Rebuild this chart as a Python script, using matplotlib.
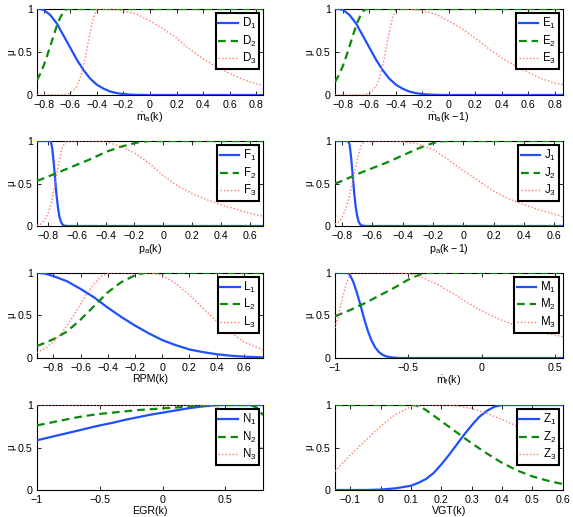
import matplotlib
matplotlib.use("Agg")
import matplotlib.pyplot as plt
from matplotlib import font_manager

names = {f.name for f in font_manager.fontManager.ttflist}
base = 'Liberation Sans Narrow' if 'Liberation Sans Narrow' in names else 'Liberation Sans'
plt.rcParams['font.family'] = [base, 'DejaVu Sans']
plt.rcParams['mathtext.fontset'] = 'custom'
plt.rcParams['mathtext.rm'] = base
plt.rcParams['mathtext.it'] = base + ':italic'
plt.rcParams['mathtext.default'] = 'regular'

# ---------------- data ----------------
# Panel D : m_a(k)
D1_x = [-0.85, -0.83, -0.8, -0.75, -0.7, -0.65, -0.6, -0.55, -0.5, -0.45, -0.4, -0.35, -0.3, -0.25, -0.2, -0.15, -0.1, 0.0, 0.85]
D1_y = [1, 1, 0.99, 0.93, 0.83, 0.69, 0.55, 0.41, 0.29, 0.19, 0.12, 0.074, 0.041, 0.022, 0.011, 0.005, 0.002, 0, 0]
D2_x = [-0.85, -0.825, -0.8, -0.775, -0.75, -0.725, -0.7, -0.675, -0.65, -0.635, -0.62, 0.85]
D2_y = [0.17, 0.25, 0.34, 0.45, 0.57, 0.69, 0.81, 0.90, 0.97, 0.99, 1, 1]
D3_x = [-0.85, -0.65, -0.6, -0.55, -0.525, -0.5, -0.475, -0.45, -0.425, -0.4, -0.39, -0.3, -0.2, -0.1, 0.0, 0.1, 0.2, 0.3, 0.4, 0.5, 0.6, 0.7, 0.8, 0.85]
D3_y = [0, 0.002, 0.02, 0.10, 0.20, 0.34, 0.53, 0.73, 0.90, 0.99, 1, 1, 0.98, 0.94, 0.86, 0.77, 0.66, 0.53, 0.42, 0.33, 0.25, 0.18, 0.13, 0.11]

# Panel E : m_a(k-1)
E1_x = [-0.86, -0.83, -0.8, -0.75, -0.7, -0.65, -0.6, -0.55, -0.5, -0.45, -0.4, -0.35, -0.3, -0.25, -0.2, -0.15, -0.1, 0.0, 0.86]
E1_y = [1, 1, 0.99, 0.93, 0.83, 0.69, 0.55, 0.41, 0.29, 0.19, 0.12, 0.074, 0.041, 0.022, 0.011, 0.005, 0.002, 0, 0]
E2_x = [-0.86, -0.825, -0.8, -0.775, -0.75, -0.725, -0.7, -0.675, -0.65, -0.635, -0.62, 0.86]
E2_y = [0.15, 0.25, 0.34, 0.45, 0.57, 0.69, 0.81, 0.90, 0.97, 0.99, 1, 1]
E3_x = [-0.86, -0.65, -0.6, -0.55, -0.525, -0.5, -0.475, -0.45, -0.425, -0.4, -0.39, -0.3, -0.2, -0.1, 0.0, 0.1, 0.2, 0.3, 0.4, 0.5, 0.6, 0.7, 0.8, 0.86]
E3_y = [0, 0.002, 0.02, 0.10, 0.20, 0.34, 0.53, 0.73, 0.90, 0.99, 1, 1, 0.98, 0.94, 0.86, 0.77, 0.66, 0.54, 0.43, 0.34, 0.26, 0.19, 0.14, 0.12]

# Panel F : p_a(k)
F1_x = [-0.875, -0.78, -0.77, -0.76, -0.75, -0.74, -0.73, -0.72, -0.71, -0.70, -0.69, -0.68, -0.66, 0.69]
F1_y = [1, 1, 0.92, 0.76, 0.56, 0.37, 0.22, 0.11, 0.053, 0.022, 0.008, 0.003, 0, 0]
F2_x = [-0.875, -0.8, -0.7, -0.6, -0.5, -0.4, -0.3, -0.2, -0.15, -0.1, 0.69]
F2_y = [0.53, 0.58, 0.65, 0.72, 0.79, 0.87, 0.93, 0.975, 0.99, 1, 1]
F3_x = [-0.875, -0.85, -0.825, -0.8, -0.775, -0.75, -0.725, -0.7, -0.675, -0.45, -0.4, -0.3, -0.2, -0.1, 0.0, 0.1, 0.2, 0.3, 0.4, 0.5, 0.6, 0.69]
F3_y = [0.007, 0.02, 0.06, 0.14, 0.28, 0.49, 0.73, 0.92, 1, 1, 0.99, 0.94, 0.86, 0.74, 0.59, 0.47, 0.38, 0.31, 0.25, 0.20, 0.15, 0.115]

# Panel J : p_a(k-1)
J1_x = [-0.846, -0.76, -0.75, -0.74, -0.73, -0.72, -0.71, -0.70, -0.69, -0.68, -0.67, -0.65, 0.655]
J1_y = [1, 1, 0.96, 0.81, 0.61, 0.40, 0.23, 0.12, 0.05, 0.02, 0.007, 0, 0]
J2_x = [-0.846, -0.8, -0.7, -0.6, -0.5, -0.4, -0.3, -0.25, -0.2, -0.15, -0.1, 0.655]
J2_y = [0.50, 0.53, 0.61, 0.68, 0.75, 0.83, 0.91, 0.945, 0.975, 0.995, 1, 1]
J3_x = [-0.846, -0.825, -0.8, -0.775, -0.75, -0.725, -0.7, -0.675, -0.65, -0.45, -0.4, -0.3, -0.2, -0.1, 0.0, 0.1, 0.2, 0.3, 0.4, 0.5, 0.6, 0.655]
J3_y = [0.02, 0.044, 0.10, 0.20, 0.36, 0.56, 0.77, 0.94, 1, 1, 0.99, 0.965, 0.90, 0.78, 0.65, 0.53, 0.41, 0.32, 0.25, 0.19, 0.14, 0.11]

# Panel L : RPM(k)
L1_x = [-0.92, -0.86, -0.8, -0.7, -0.6, -0.5, -0.4, -0.3, -0.2, -0.1, 0.0, 0.1, 0.2, 0.3, 0.4, 0.5, 0.6, 0.74]
L1_y = [1.0, 0.99, 0.96, 0.90, 0.81, 0.71, 0.59, 0.48, 0.38, 0.29, 0.21, 0.15, 0.10, 0.069, 0.044, 0.027, 0.016, 0.007]
L2_x = [-0.92, -0.8, -0.7, -0.6, -0.5, -0.4, -0.3, -0.2, -0.15, -0.12, 0.74]
L2_y = [0.14, 0.22, 0.31, 0.45, 0.61, 0.77, 0.89, 0.97, 0.99, 1, 1]
L3_x = [-0.92, -0.85, -0.8, -0.75, -0.7, -0.65, -0.6, -0.55, -0.5, -0.45, -0.4, -0.38, -0.1, 0.0, 0.1, 0.2, 0.3, 0.4, 0.5, 0.6, 0.74]
L3_y = [0.064, 0.124, 0.19, 0.27, 0.38, 0.50, 0.63, 0.76, 0.87, 0.955, 0.99, 1, 1, 0.97, 0.87, 0.74, 0.58, 0.43, 0.30, 0.19, 0.094]

# Panel M : m_f(k)
M1_x = [-1.0, -0.92, -0.9, -0.875, -0.85, -0.825, -0.8, -0.775, -0.75, -0.725, -0.7, -0.675, -0.65, -0.6, -0.55, 0.55]
M1_y = [1, 1, 0.98, 0.89, 0.76, 0.61, 0.45, 0.31, 0.20, 0.12, 0.068, 0.036, 0.018, 0.0035, 0, 0]
M2_x = [-1.0, -0.9, -0.8, -0.7, -0.6, -0.5, -0.45, -0.4, -0.35, 0.55]
M2_y = [0.49, 0.56, 0.64, 0.73, 0.82, 0.92, 0.96, 0.99, 1, 1]
M3_x = [-1.0, -0.975, -0.95, -0.925, -0.9, -0.88, -0.6, -0.5, -0.45, -0.4, -0.3, -0.2, -0.1, 0.0, 0.1, 0.2, 0.3, 0.4, 0.5, 0.55]
M3_y = [0.35, 0.52, 0.70, 0.86, 0.97, 1, 1, 0.99, 0.97, 0.94, 0.86, 0.76, 0.65, 0.55, 0.47, 0.40, 0.35, 0.30, 0.27, 0.25]

# Panel N : EGR(k)
N1_x = [-1.0, -0.9, -0.8, -0.7, -0.6, -0.5, -0.4, -0.3, -0.2, -0.1, 0.0, 0.1, 0.2, 0.3, 0.4, 0.45, 0.8]
N1_y = [0.585, 0.62, 0.655, 0.69, 0.725, 0.76, 0.79, 0.825, 0.855, 0.885, 0.91, 0.935, 0.96, 0.98, 0.995, 1, 1]
N2_x = [-1.0, -0.9, -0.8, -0.7, -0.6, -0.5, -0.4, -0.3, -0.2, -0.1, 0.0, 0.1, 0.2, 0.3, 0.35, 0.7, 0.75, 0.8]
N2_y = [0.76, 0.79, 0.82, 0.85, 0.875, 0.895, 0.91, 0.925, 0.94, 0.95, 0.96, 0.97, 0.98, 0.99, 1, 1, 0.97, 0.88]
N3_x = [-1.0, 0.38, 0.45, 0.5, 0.55, 0.6, 0.65, 0.7, 0.75, 0.8]
N3_y = [1, 1, 0.96, 0.91, 0.85, 0.78, 0.70, 0.62, 0.55, 0.48]

# Panel Z : VGT(k)
Z1_x = [-0.15, -0.05, 0.0, 0.05, 0.1, 0.125, 0.15, 0.175, 0.2, 0.225, 0.25, 0.275, 0.3, 0.325, 0.35, 0.375, 0.4, 0.6]
Z1_y = [0, 0, 0.005, 0.02, 0.05, 0.085, 0.13, 0.20, 0.30, 0.41, 0.53, 0.65, 0.76, 0.86, 0.93, 0.98, 1, 1]
Z2_x = [-0.15, 0.11, 0.13, 0.15, 0.2, 0.25, 0.3, 0.35, 0.4, 0.45, 0.5, 0.55, 0.6]
Z2_y = [1, 1, 0.98, 0.94, 0.81, 0.68, 0.55, 0.43, 0.32, 0.23, 0.16, 0.11, 0.07]
Z3_x = [-0.15, -0.1, -0.05, 0.0, 0.05, 0.1, 0.13, 0.22, 0.25, 0.3, 0.35, 0.4, 0.45, 0.5, 0.55, 0.6]
Z3_y = [0.22, 0.41, 0.58, 0.75, 0.89, 0.98, 1, 1, 0.99, 0.96, 0.90, 0.83, 0.75, 0.66, 0.57, 0.49]

# tick values / labels
ticks_08 = [-0.8, -0.6, -0.4, -0.2, 0, 0.2, 0.4, 0.6, 0.8]
labels_08 = ['\u22120.8', '\u22120.6', '\u22120.4', '\u22120.2', '0', '0.2', '0.4', '0.6', '0.8']
ticks_06 = [-0.8, -0.6, -0.4, -0.2, 0, 0.2, 0.4, 0.6]
labels_06 = ['\u22120.8', '\u22120.6', '\u22120.4', '\u22120.2', '0', '0.2', '0.4', '0.6']
ticks_1 = [-1, -0.5, 0, 0.5]
labels_1 = ['\u22121', '\u22120.5', '0', '0.5']
ticks_vgt = [-0.1, 0, 0.1, 0.2, 0.3, 0.4, 0.5, 0.6]
labels_vgt = ['\u22120.1', '0', '0.1', '0.2', '0.3', '0.4', '0.5', '0.6']
yticks = [0, 0.5, 1]
ylabels = ['0', '0.5', '1']

panels = [
    dict(curves=[(D1_x, D1_y), (D2_x, D2_y), (D3_x, D3_y)], names=['D_1', 'D_2', 'D_3'],
         xlim=(-0.85, 0.85), ticks=ticks_08, tlabels=labels_08, xlabel=r'$\dot{m}_a(k)$'),
    dict(curves=[(E1_x, E1_y), (E2_x, E2_y), (E3_x, E3_y)], names=['E_1', 'E_2', 'E_3'],
         xlim=(-0.86, 0.86), ticks=ticks_08, tlabels=labels_08, xlabel=r'$\dot{m}_a(k-1)$'),
    dict(curves=[(F1_x, F1_y), (F2_x, F2_y), (F3_x, F3_y)], names=['F_1', 'F_2', 'F_3'],
         xlim=(-0.875, 0.69), ticks=ticks_06, tlabels=labels_06, xlabel=r'$p_a(k)$'),
    dict(curves=[(J1_x, J1_y), (J2_x, J2_y), (J3_x, J3_y)], names=['J_1', 'J_2', 'J_3'],
         xlim=(-0.846, 0.655), ticks=ticks_06, tlabels=labels_06, xlabel=r'$p_a(k-1)$'),
    dict(curves=[(L1_x, L1_y), (L2_x, L2_y), (L3_x, L3_y)], names=['L_1', 'L_2', 'L_3'],
         xlim=(-0.92, 0.74), ticks=ticks_06, tlabels=labels_06, xlabel='RPM(k)'),
    dict(curves=[(M1_x, M1_y), (M2_x, M2_y), (M3_x, M3_y)], names=['M_1', 'M_2', 'M_3'],
         xlim=(-1.0, 0.55), ticks=ticks_1, tlabels=labels_1, xlabel=r'$\dot{m}_f(k)$'),
    dict(curves=[(N1_x, N1_y), (N2_x, N2_y), (N3_x, N3_y)], names=['N_1', 'N_2', 'N_3'],
         xlim=(-1.0, 0.8), ticks=ticks_1, tlabels=labels_1, xlabel='EGR(k)'),
    dict(curves=[(Z1_x, Z1_y), (Z2_x, Z2_y), (Z3_x, Z3_y)], names=['Z_1', 'Z_2', 'Z_3'],
         xlim=(-0.15, 0.6), ticks=ticks_vgt, tlabels=labels_vgt, xlabel='VGT(k)'),
]

styles = [
    dict(color='#1e50ff', lw=1.6, ls='-'),
    dict(color='#0a8a0a', lw=1.6, ls=(0, (3.5, 2.2))),
    dict(color='#ff7a6a', lw=1.0, ls=(0, (1, 1.5))),
]

W, H = 573, 517
col_x = [(37, 263), (335, 562.7)]
row_y = [(9, 95), (141, 226), (272.7, 358), (405, 490)]

fig = plt.figure(figsize=(W / 100, H / 100), dpi=100)

for i, p in enumerate(panels):
    r, c = divmod(i, 2)
    x0, x1 = col_x[c]
    y0, y1 = row_y[r]
    ax = fig.add_axes([x0 / W, 1 - y1 / H, (x1 - x0) / W, (y1 - y0) / H])
    for (xs, ys), st, nm in zip(p['curves'], styles, p['names']):
        ax.plot(xs, ys, color=st['color'], lw=st['lw'], linestyle=st['ls'],
                label='$' + nm + '$', zorder=3)
    ax.set_xlim(*p['xlim'])
    ax.set_ylim(0, 1)
    ax.set_xticks(p['ticks'])
    ax.set_xticklabels(p['tlabels'])
    ax.set_yticks(yticks)
    ax.set_yticklabels(ylabels)
    ax.tick_params(direction='in', top=True, right=True, length=3, width=0.6,
                   labelsize=7.7)
    ax.tick_params(axis='x', pad=3.5)
    ax.tick_params(axis='y', pad=3)
    for s in ax.spines.values():
        s.set_linewidth(0.8)
    ax.set_xlabel(p['xlabel'], fontsize=7.7, labelpad=1)
    ax.set_ylabel('\u03bc', fontsize=7, labelpad=1)
    leg = ax.legend(loc='upper right', fontsize=8.3, handlelength=1.7,
                    handletextpad=0.3, borderpad=0.25, labelspacing=0.22,
                    borderaxespad=0.35, fancybox=False, framealpha=1)
    leg.get_frame().set_edgecolor('black')
    leg.get_frame().set_linewidth(1.5)

fig.savefig('out.png', dpi=100)
